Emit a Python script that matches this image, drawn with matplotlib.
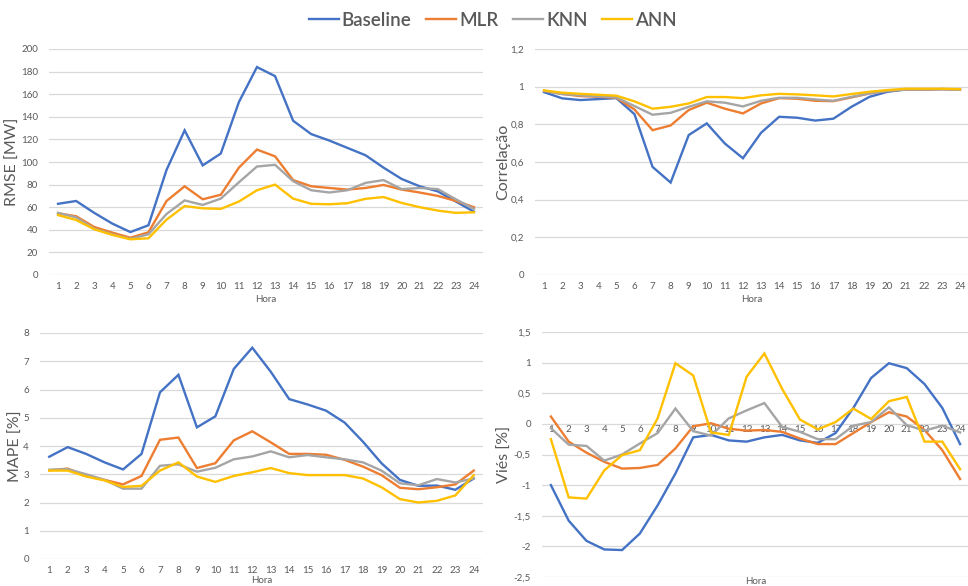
import matplotlib
matplotlib.use("Agg")
import matplotlib.pyplot as plt
from matplotlib.ticker import FuncFormatter

plt.rcParams['font.family'] = ['Lato', 'DejaVu Sans']

hours = list(range(1, 25))
series_names = ["Baseline", "MLR", "KNN", "ANN"]
colors = ["#4472C4", "#ED7D31", "#A5A5A5", "#FFC000"]

rmse_baseline = [63, 65.5, 55, 45.5, 38, 44, 93, 128, 97, 107.5, 153, 184, 176, 136.5,
                 124.7, 119, 112.5, 106, 95, 85, 78.5, 74, 65, 56]
rmse_mlr = [54.6, 52, 42.5, 37.5, 33, 37.8, 65.5, 78.5, 67, 71, 95, 111, 105, 84,
            78.5, 77, 75.6, 77, 79.7, 75.6, 73, 70, 65.5, 60]
rmse_knn = [55, 51, 41, 36, 32, 36, 54, 66, 62, 67.6, 82, 96, 97.5, 83,
            75, 73, 75, 81.5, 84, 76, 77, 76, 67, 58.5]
rmse_ann = [53, 48.7, 40.5, 35.5, 31.6, 32.5, 49, 61, 59, 58.5, 65, 75, 80, 67.6,
            63, 62.6, 63.5, 67.4, 69, 63.8, 60, 57, 55, 55.5]

corr_baseline = [0.971, 0.938, 0.929, 0.934, 0.939, 0.854, 0.574, 0.491, 0.743, 0.805,
                 0.698, 0.62, 0.755, 0.84, 0.835, 0.82, 0.83, 0.893, 0.946, 0.973,
                 0.985, 0.985, 0.987, 0.985]
corr_mlr = [0.978, 0.961, 0.95, 0.946, 0.941, 0.879, 0.769, 0.794, 0.876, 0.915,
            0.883, 0.858, 0.911, 0.939, 0.936, 0.925, 0.923, 0.943, 0.964, 0.978,
            0.985, 0.985, 0.987, 0.985]
corr_knn = [0.978, 0.961, 0.954, 0.948, 0.943, 0.897, 0.851, 0.861, 0.893, 0.922,
            0.915, 0.895, 0.925, 0.941, 0.941, 0.932, 0.925, 0.946, 0.964, 0.978,
            0.985, 0.985, 0.987, 0.985]
corr_ann = [0.98, 0.968, 0.962, 0.957, 0.952, 0.922, 0.883, 0.893, 0.911, 0.945,
            0.945, 0.939, 0.954, 0.962, 0.959, 0.954, 0.948, 0.961, 0.973, 0.982,
            0.989, 0.989, 0.989, 0.987]

mape_baseline = [3.62, 3.96, 3.72, 3.42, 3.17, 3.72, 5.9, 6.52, 4.66, 5.05, 6.73, 7.48,
                 6.63, 5.66, 5.47, 5.25, 4.83, 4.15, 3.39, 2.8, 2.59, 2.6, 2.45, 2.85]
mape_mlr = [3.14, 3.2, 2.94, 2.8, 2.64, 2.94, 4.22, 4.3, 3.22, 3.39, 4.2, 4.52,
            4.13, 3.72, 3.72, 3.69, 3.51, 3.27, 2.97, 2.52, 2.47, 2.54, 2.64, 3.13]
mape_knn = [3.16, 3.18, 3.0, 2.8, 2.49, 2.49, 3.3, 3.35, 3.09, 3.23, 3.53, 3.63,
            3.81, 3.6, 3.68, 3.6, 3.53, 3.42, 3.13, 2.68, 2.61, 2.83, 2.71, 2.85]
mape_ann = [3.13, 3.13, 2.92, 2.78, 2.55, 2.59, 3.13, 3.42, 2.92, 2.73, 2.94, 3.07,
            3.22, 3.04, 2.97, 2.97, 2.97, 2.85, 2.54, 2.12, 2.0, 2.06, 2.25, 2.97]

bias_baseline = [-1.0, -1.58, -1.91, -2.05, -2.06, -1.79, -1.33, -0.81, -0.22, -0.18,
                 -0.27, -0.29, -0.22, -0.18, -0.27, -0.31, -0.15, 0.26, 0.75, 0.99,
                 0.91, 0.65, 0.26, -0.33]
bias_mlr = [0.12, -0.29, -0.47, -0.62, -0.73, -0.72, -0.67, -0.4, -0.04, 0.01,
            -0.08, -0.11, -0.1, -0.13, -0.24, -0.33, -0.33, -0.15, 0.03, 0.19,
            0.12, -0.1, -0.43, -0.9]
bias_knn = [-0.07, -0.34, -0.36, -0.6, -0.5, -0.32, -0.15, 0.25, -0.12, -0.19,
            0.09, 0.22, 0.34, -0.05, -0.13, -0.25, -0.25, -0.03, 0.03, 0.27,
            -0.02, -0.11, -0.03, -0.14]
bias_ann = [-0.25, -1.2, -1.22, -0.76, -0.51, -0.43, 0.09, 0.99, 0.79, -0.14,
            -0.18, 0.77, 1.15, 0.57, 0.07, -0.09, 0.03, 0.25, 0.08, 0.37,
            0.44, -0.29, -0.29, -0.74]

W, H = 968, 586
fig = plt.figure(figsize=(W / 100, H / 100), dpi=100)
fig.patch.set_facecolor("white")

TXT = "#595959"
GRID = "#D9D9D9"


def axes_px(left, top, right, bottom):
    return fig.add_axes([left / W, 1 - bottom / H, (right - left) / W, (bottom - top) / H])


def comma_fmt(v, _):
    if abs(v - round(v)) < 1e-9:
        return str(int(round(v)))
    return ("%g" % round(v, 2)).replace(".", ",")


def style(ax, ylim, yticks, ylabel, ylab_x, hora_y):
    ax.set_xlim(0.5, 24.5)
    ax.set_ylim(*ylim)
    ax.set_yticks(yticks)
    ax.set_xticks(hours)
    ax.yaxis.set_major_formatter(FuncFormatter(comma_fmt))
    for s in ax.spines.values():
        s.set_visible(False)
    ax.grid(axis="y", color=GRID, lw=0.9)
    ax.set_axisbelow(True)
    ax.tick_params(length=0, labelsize=7, colors=TXT, pad=5)
    ax.tick_params(axis="y", pad=8)
    ax.set_ylabel(ylabel, fontsize=11.5, color=TXT)
    ax.yaxis.set_label_coords(ylab_x, 0.5)
    ax.text(0.5, hora_y, "Hora", transform=ax.transAxes, ha="center", va="center",
            fontsize=7, color=TXT)


def draw(ax, data):
    for name, vals, c in zip(series_names, data, colors):
        ax.plot(hours, vals, color=c, lw=1.7, label=name, solid_joinstyle="miter")


ax1 = axes_px(49, 49, 483, 275)
draw(ax1, [rmse_baseline, rmse_mlr, rmse_knn, rmse_ann])
style(ax1, (0, 200), range(0, 201, 20), "RMSE [MW]", -0.066, -0.11)

ax2 = axes_px(535, 49, 969, 275)
draw(ax2, [corr_baseline, corr_mlr, corr_knn, corr_ann])
style(ax2, (0, 1.2), [0, 0.2, 0.4, 0.6, 0.8, 1.0, 1.2], "Correlação", -0.056, -0.11)

ax3 = axes_px(40, 333, 483, 559)
draw(ax3, [mape_baseline, mape_mlr, mape_knn, mape_ann])
style(ax3, (0, 8), range(0, 9), "MAPE [%]", -0.038, -0.095)

ax4 = axes_px(542, 332, 969, 577)
draw(ax4, [bias_baseline, bias_mlr, bias_knn, bias_ann])
style(ax4, (-2.5, 1.5), [-2.5, -2, -1.5, -1, -0.5, 0, 0.5, 1, 1.5], "Viés [%]", -0.071, -0.02)
ax4.spines["bottom"].set_position(("data", 0))
ax4.tick_params(axis="x", pad=1)

handles, labels = ax1.get_legend_handles_labels()
leg = fig.legend(handles, labels, loc="center", bbox_to_anchor=(0.509, 1 - 20 / H), ncol=4,
                 frameon=False, fontsize=13.5, handlelength=1.6, handletextpad=0.15,
                 columnspacing=0.8)
for t in leg.get_texts():
    t.set_color(TXT)
    t.set_fontweight("semibold")

fig.savefig("out.png", dpi=100, facecolor="white")
